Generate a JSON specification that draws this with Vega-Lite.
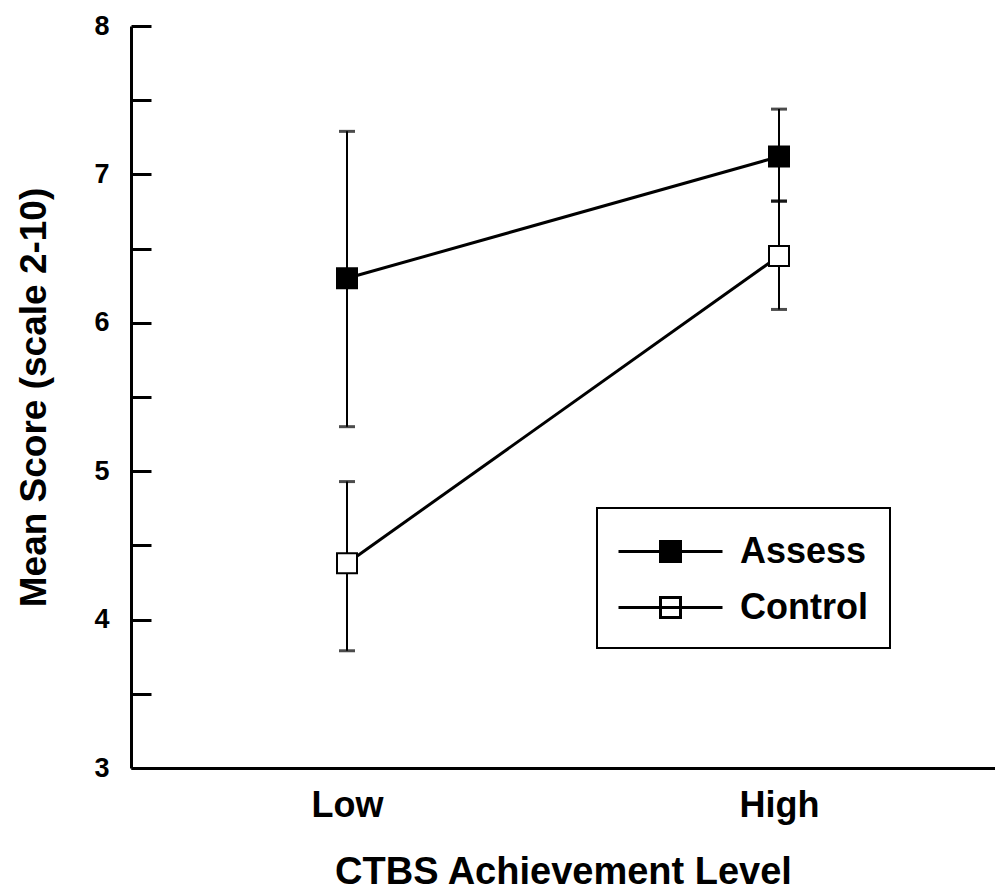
{
  "$schema": "https://vega.github.io/schema/vega-lite/v6.json",
  "width": 864,
  "height": 742,
  "autosize": {"type": "none"},
  "padding": {"left": 131, "top": 26, "right": 0, "bottom": 124},
  "background": "white",
  "config": {
    "view": {"stroke": null},
    "font": "Liberation Sans",
    "legend": {"strokeWidth": 2}
  },
  "data": {
    "values": [
      {"level": "Low", "group": "Assess", "mean": 6.30, "lo": 5.30, "hi": 7.29},
      {"level": "High", "group": "Assess", "mean": 7.12, "lo": 6.82, "hi": 7.44},
      {"level": "Low", "group": "Control", "mean": 4.38, "lo": 3.79, "hi": 4.93},
      {"level": "High", "group": "Control", "mean": 6.45, "lo": 6.09, "hi": 6.82}
    ]
  },
  "encoding": {
    "x": {
      "field": "level",
      "type": "nominal",
      "sort": ["Low", "High"],
      "scale": {"type": "point", "padding": 0.5},
      "axis": {
        "title": "CTBS Achievement Level",
        "labelAngle": 0,
        "ticks": false,
        "domainWidth": 3,
        "domainColor": "black",
        "labelFont": "Liberation Sans",
        "labelFontSize": 36,
        "labelFontWeight": "bold",
        "labelColor": "black",
        "labelPadding": 20,
        "titleFont": "Liberation Sans",
        "titleFontSize": 38,
        "titleFontWeight": "bold",
        "titleColor": "black",
        "titlePadding": 30,
        "grid": false
      }
    }
  },
  "layer": [
    {
      "mark": {"type": "rule", "strokeWidth": 2, "color": "black"},
      "encoding": {
        "y": {
          "field": "lo",
          "type": "quantitative",
          "scale": {"domain": [3, 8], "nice": false, "zero": false},
          "axis": {
            "title": "Mean Score (scale 2-10)",
            "values": [3, 3.5, 4, 4.5, 5, 5.5, 6, 6.5, 7, 7.5, 8],
            "labelExpr": "datum.value % 1 === 0 ? format(datum.value, 'd') : ''",
            "tickSize": -20,
            "tickWidth": 3,
            "tickColor": "black",
            "domainWidth": 3,
            "domainColor": "black",
            "labelFont": "Liberation Sans",
            "labelFontSize": 27,
            "labelFontWeight": "bold",
            "labelColor": "black",
            "labelPadding": 42,
            "labelFlush": false,
            "labelOverlap": false,
            "titleFont": "Liberation Sans",
            "titleFontSize": 37,
            "titleFontWeight": "bold",
            "titleColor": "black",
            "titlePadding": 40,
            "grid": false
          }
        },
        "y2": {"field": "hi"}
      }
    },
    {
      "mark": {"type": "tick", "size": 16, "thickness": 3, "color": "black", "orient": "horizontal"},
      "encoding": {"y": {"field": "lo", "type": "quantitative", "title": "Mean Score (scale 2-10)"}}
    },
    {
      "mark": {"type": "tick", "size": 16, "thickness": 3, "color": "black", "orient": "horizontal"},
      "encoding": {"y": {"field": "hi", "type": "quantitative", "title": "Mean Score (scale 2-10)"}}
    },
    {
      "mark": {"type": "line", "strokeWidth": 3, "color": "black"},
      "encoding": {
        "y": {"field": "mean", "type": "quantitative", "title": "Mean Score (scale 2-10)"},
        "detail": {"field": "group", "type": "nominal"}
      }
    },
    {
      "mark": {"type": "point", "shape": "square", "size": 400, "filled": true, "stroke": "black", "strokeWidth": 2, "opacity": 1},
      "encoding": {
        "y": {"field": "mean", "type": "quantitative", "title": "Mean Score (scale 2-10)"},
        "fill": {
          "field": "group",
          "type": "nominal",
          "scale": {"domain": ["Assess", "Control"], "range": ["black", "white"]},
          "legend": {
            "title": null,
            "orient": "none",
            "legendX": 466,
            "legendY": 482,
            "symbolType": "M-2.6,0H2.6M-0.5,-0.5H0.5V0.5H-0.5Z",
            "symbolSize": 1600,
            "symbolOffset": 30,
            "symbolStrokeColor": "black",
            "symbolStrokeWidth": 3,
            "symbolOpacity": 1,
            "labelFont": "Liberation Sans",
            "labelFontSize": 36,
            "labelFontWeight": "bold",
            "labelColor": "black",
            "labelOffset": 48,
            "strokeColor": "black",
            "padding": 22,
            "rowPadding": 16
          }
        }
      }
    }
  ]
}
